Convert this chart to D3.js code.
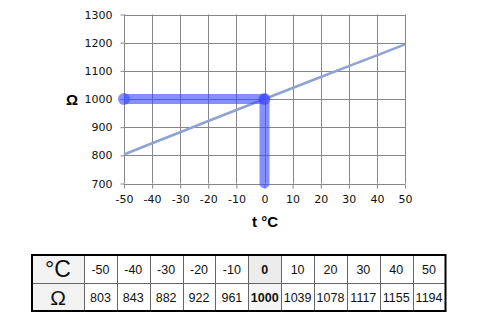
<!DOCTYPE html>
<html>
<head>
<meta charset="utf-8">
<script src="https://d3js.org/d3.v7.min.js"></script>
<style>
  body { margin: 0; background: #fff; }
  svg { display: block; }
</style>
</head>
<body>
<script>
// Pt1000-style table: temperature (°C) vs resistance (Ω)
var temps = [-50, -40, -30, -20, -10, 0, 10, 20, 30, 40, 50];
var ohms = [803, 843, 882, 922, 961, 1000, 1039, 1078, 1117, 1155, 1194];
var yTicks = [700, 800, 900, 1000, 1100, 1200, 1300];
var refT = 0, refR = 1000; // highlighted reading

var W = 480, H = 323;
var svg = d3.select("body").append("svg")
  .attr("width", W).attr("height", H);

var x = d3.scaleLinear().domain([-50, 50]).range([124, 405]);
var y = d3.scaleLinear().domain([700, 1300]).range([183.5, 14.5]);

// grid
var grid = svg.append("g").attr("stroke", "#878787").attr("stroke-width", 1);
grid.selectAll("line.v").data(temps).enter().append("line")
  .attr("x1", function (d) { return Math.round(x(d)) + 0.5; })
  .attr("x2", function (d) { return Math.round(x(d)) + 0.5; })
  .attr("y1", y(1300)).attr("y2", y(700));
grid.selectAll("line.h").data(yTicks).enter().append("line")
  .attr("y1", function (d) { return Math.round(y(d)) + 0.5; })
  .attr("y2", function (d) { return Math.round(y(d)) + 0.5; })
  .attr("x1", x(-50)).attr("x2", x(50));

// axes
var fmt = function (d) { return String(d); };
var xAxis = svg.append("g")
  .attr("transform", "translate(0," + (Math.round(y(700)) + 0.5) + ")")
  .call(d3.axisBottom(x).tickValues(temps).tickFormat(fmt).tickSize(4).tickPadding(7));
var yAxis = svg.append("g")
  .attr("transform", "translate(" + (Math.round(x(-50)) + 0.5) + ",0)")
  .call(d3.axisLeft(y).tickValues(yTicks).tickFormat(fmt).tickSize(4).tickPadding(8));
[xAxis, yAxis].forEach(function (a) {
  a.select(".domain").remove();
  a.selectAll(".tick line").attr("stroke", "#878787");
  a.selectAll(".tick text")
    .style("font-family", "DejaVu Sans, Verdana, sans-serif")
    .style("font-size", "11px")
    .attr("fill", "#111");
});

// data line
svg.append("path")
  .datum(temps.map(function (t, i) { return [t, ohms[i]]; }))
  .attr("fill", "none")
  .attr("stroke", "#8ea3d1")
  .attr("stroke-width", 2.5)
  .attr("d", d3.line().x(function (d) { return x(d[0]); }).y(function (d) { return y(d[1]); }));

// highlight: read-off lines
var hl = "rgba(60,75,255,0.62)";
svg.append("line")
  .attr("x1", x(-50)).attr("x2", x(refT))
  .attr("y1", y(refR)).attr("y2", y(refR))
  .attr("stroke", hl).attr("stroke-width", 10);
svg.append("line")
  .attr("x1", x(refT)).attr("x2", x(refT))
  .attr("y1", y(refR)).attr("y2", y(700))
  .attr("stroke", hl).attr("stroke-width", 10).attr("stroke-linecap", "round");
svg.selectAll("circle.dot").data([[-50, refR], [refT, refR]]).enter().append("circle")
  .attr("cx", function (d) { return x(d[0]); })
  .attr("cy", function (d) { return y(d[1]); })
  .attr("r", 6)
  .attr("fill", hl);

// axis titles
svg.append("text")
  .attr("x", 72).attr("y", 105)
  .attr("text-anchor", "middle")
  .style("font-family", "Liberation Sans, Arial, sans-serif")
  .style("font-weight", "bold").style("font-size", "15px")
  .text("Ω");
svg.append("text")
  .attr("x", 265).attr("y", 227)
  .attr("text-anchor", "middle")
  .style("font-family", "Liberation Sans, Arial, sans-serif")
  .style("font-weight", "bold").style("font-size", "15px")
  .text("t °C");

// table
var tx0 = 32, firstW = 52, tx1 = 445.5, ty0 = 255, rowH = 28;
var col = d3.scaleBand().domain(d3.range(temps.length)).range([tx0 + firstW, tx1]);
var rows = [
  { head: "°C", vals: temps, headSize: 23 },
  { head: "Ω", vals: ohms, headSize: 21 }
];
var tbl = svg.append("g").style("font-family", "Liberation Sans, Arial, sans-serif");

rows.forEach(function (r, ri) {
  var ry = ty0 + ri * rowH;
  tbl.append("rect")
    .attr("x", tx0).attr("y", ry).attr("width", firstW).attr("height", rowH)
    .attr("fill", "#f3f3f3");
  tbl.append("text")
    .attr("x", tx0 + firstW / 2).attr("y", ry + rowH / 2 + r.headSize * 0.36)
    .attr("text-anchor", "middle")
    .style("font-size", r.headSize + "px").attr("fill", "#111")
    .text(r.head);
  var cells = tbl.selectAll("g.c" + ri).data(r.vals).enter().append("g");
  cells.append("rect")
    .attr("x", function (d, i) { return col(i); })
    .attr("y", ry).attr("width", col.bandwidth()).attr("height", rowH)
    .attr("fill", function (d, i) { return temps[i] === refT ? (ri === 0 ? "#ececec" : "#f4f4f4") : "#fff"; });
  cells.append("text")
    .attr("x", function (d, i) { return col(i) + col.bandwidth() / 2; })
    .attr("y", ry + rowH / 2 + 4.6)
    .attr("text-anchor", "middle")
    .style("font-size", "12.5px")
    .style("font-weight", function (d, i) { return temps[i] === refT ? "bold" : "normal"; })
    .attr("fill", "#111")
    .text(function (d) { return d; });
});

// inner lines
var inner = tbl.append("g").attr("stroke", "#666").attr("stroke-width", 1);
d3.range(temps.length).forEach(function (i) {
  inner.append("line")
    .attr("x1", Math.round(col(i)) + 0.5).attr("x2", Math.round(col(i)) + 0.5)
    .attr("y1", ty0).attr("y2", ty0 + 2 * rowH);
});
inner.append("line")
  .attr("x1", tx0).attr("x2", tx1)
  .attr("y1", ty0 + rowH + 0.5).attr("y2", ty0 + rowH + 0.5);
// outer border
tbl.append("rect")
  .attr("x", tx0).attr("y", ty0).attr("width", tx1 - tx0).attr("height", 2 * rowH)
  .attr("fill", "none").attr("stroke", "#000").attr("stroke-width", 2);
</script>
</body>
</html>
